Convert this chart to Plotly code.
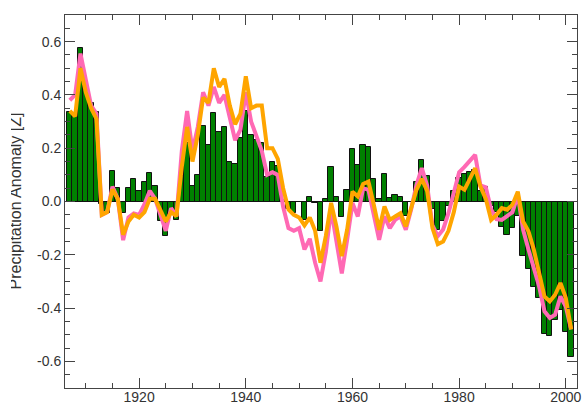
import plotly.graph_objects as go

years = list(range(1907, 2002))

bars = [0.335, 0.325, 0.578, 0.42, 0.37, 0.335, -0.01, -0.045, 0.113, 0.052,
        -0.044, 0.052, 0.083, 0.04, 0.075, 0.108, 0.058, -0.075, -0.13, -0.045,
        -0.068, 0.096, 0.22, 0.06, 0.10, 0.284, 0.212, 0.334, 0.26, 0.28,
        0.15, 0.142, 0.24, 0.338, 0.25, 0.23, 0.22, 0.092, 0.15, 0.135,
        0.005, -0.03, -0.045, 0.0, -0.068, 0.018, -0.005, -0.112, 0.009, 0.128,
        0.016, -0.06, 0.044, 0.196, 0.138, 0.212, 0.206, 0.085, 0.009, 0.104,
        0.012, 0.025, 0.016, -0.056, 0.0, 0.075, 0.154, 0.096, -0.03, -0.106,
        -0.072, -0.015, 0.038, 0.09, 0.102, 0.111, 0.12, 0.04, 0.056, -0.015,
        -0.04, -0.097, -0.125, -0.1, -0.053, -0.206, -0.255, -0.322, -0.362, -0.498,
        -0.506, -0.445, -0.408, -0.488, -0.584]

orange = [0.34, 0.32, 0.50, 0.41, 0.35, 0.31, -0.05, -0.04, 0.045, 0.01,
          -0.125, -0.075, -0.05, -0.06, -0.04, 0.01, 0.01, -0.03, -0.075, -0.04,
          -0.055, 0.13, 0.28, 0.15, 0.25, 0.39, 0.37, 0.50, 0.43, 0.46,
          0.36, 0.29, 0.33, 0.47, 0.35, 0.36, 0.36, 0.20, 0.20, 0.16,
          0.05, -0.03, -0.05, -0.06, -0.09, -0.06, -0.11, -0.23, -0.13, -0.005,
          -0.094, -0.205, -0.106, 0.037, 0.019, 0.066, 0.075, -0.012, -0.106, -0.019,
          -0.069, -0.056, -0.044, -0.094, -0.02, 0.044, 0.085, 0.04, -0.10, -0.16,
          -0.15, -0.11, -0.04, 0.056, 0.044, 0.084, 0.125, 0.056, 0.01, -0.069,
          -0.05, -0.025, -0.031, -0.012, 0.037, -0.075, -0.112, -0.18, -0.27, -0.356,
          -0.375, -0.35, -0.306, -0.362, -0.48]

pink = [0.38, 0.40, 0.555, 0.46, 0.36, 0.33, -0.05, -0.04, 0.056, 0.01,
        -0.145, -0.06, -0.045, -0.05, -0.01, 0.04, 0.01, -0.05, -0.11, -0.025,
        -0.056, 0.19, 0.34, 0.19, 0.28, 0.41, 0.36, 0.43, 0.37, 0.40,
        0.32, 0.23, 0.27, 0.41, 0.30, 0.24, 0.19, 0.10, 0.11, 0.10,
        -0.02, -0.10, -0.11, -0.10, -0.18, -0.14, -0.23, -0.30, -0.19, -0.03,
        -0.144, -0.27, -0.144, -0.006, -0.056, 0.05, 0.044, -0.056, -0.144, -0.056,
        -0.10, -0.069, -0.056, -0.106, -0.03, 0.062, 0.125, 0.06, -0.09, -0.13,
        -0.105, -0.044, 0.037, 0.11, 0.13, 0.15, 0.175, 0.06, 0.053, -0.03,
        -0.066, -0.069, -0.056, -0.04, 0.025, -0.106, -0.18, -0.244, -0.319, -0.412,
        -0.437, -0.425, -0.356, -0.394, -0.48]

y_ticks = [-0.6, -0.4, -0.2, 0.0, 0.2, 0.4, 0.6]
y_labels = ["-0.6", "-0.4", "-0.2", "0.0", "0.2", "0.4", "0.6"]
x_ticks = [1920, 1940, 1960, 1980, 2000]
y_title = "Precipitation Anomaly [Z]"

FIG_W, FIG_H = 584, 405
M_L, M_R, M_T, M_B = 65, 7, 15, 17
PLOT_W = FIG_W - M_L - M_R

fig = go.Figure()
fig.add_trace(go.Bar(x=years, y=bars, width=1.0,
                     marker=dict(color="#008000", line=dict(color="#111111", width=1)),
                     showlegend=False))
fig.add_trace(go.Scatter(x=years, y=pink, mode="lines",
                         line=dict(color="#ff69b4", width=4), showlegend=False))
fig.add_trace(go.Scatter(x=years, y=orange, mode="lines",
                         line=dict(color="#ffa500", width=4), showlegend=False))

axis_font = dict(family="Liberation Sans, Arial, sans-serif", size=14, color="#333333")

fig.update_layout(
    template="none",
    width=FIG_W, height=FIG_H,
    margin=dict(l=M_L, r=M_R, t=M_T, b=M_B, pad=0),
    paper_bgcolor="white", plot_bgcolor="white",
    bargap=0,
    xaxis=dict(range=[1906.1, 2002.1], tickvals=x_ticks, ticks="inside", ticklen=10,
               tickcolor="#444444", showline=True, linecolor="#444444", linewidth=1,
               mirror="ticks", showgrid=False, zeroline=False, tickfont=axis_font,
               automargin=False, ticklabelstandoff=-4,
               minor=dict(dtick=5, tick0=1900, ticks="inside", ticklen=5, tickcolor="#444444",
                          showgrid=False)),
    yaxis=dict(range=[-0.7, 0.7], tickvals=y_ticks, ticktext=y_labels, ticks="inside", ticklen=10,
               tickcolor="#444444", showline=True, linecolor="#444444", linewidth=1,
               mirror="ticks", showgrid=False, zeroline=True, zerolinecolor="#222222",
               zerolinewidth=1, tickfont=axis_font, automargin=False,
               minor=dict(dtick=0.05, tick0=0, ticks="inside", ticklen=5, tickcolor="#444444",
                          showgrid=False)),
    annotations=[
        dict(text=y_title, textangle=-90, xref="paper", yref="paper",
             x=(15 - M_L) / PLOT_W, y=0.5, xanchor="center", yanchor="middle",
             showarrow=False, font=dict(family="Liberation Sans, Arial, sans-serif", size=16, color="#333333")),
        dict(text=" ", xref="paper", yref="paper", x=-M_L / PLOT_W, y=0.5,
             xanchor="left", yanchor="middle", width=11, height=260, bgcolor="white",
             borderpad=0, borderwidth=0, showarrow=False, font=dict(size=4)),
    ],
)

fig.write_html("out.html", config={"displayModeBar": False},
               post_script="document.body.style.margin='0';document.body.style.overflow='hidden';")
